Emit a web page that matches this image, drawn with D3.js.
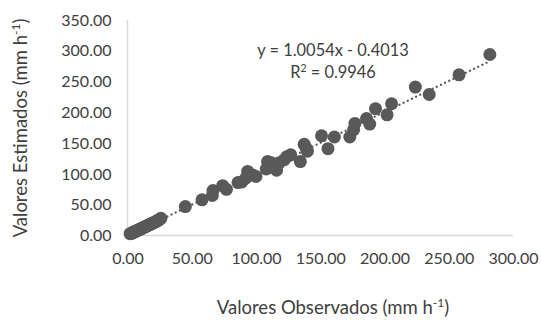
<!DOCTYPE html>
<html>
<head>
<meta charset="utf-8">
<script src="https://cdn.jsdelivr.net/npm/d3@7"></script>
<style>
  body { margin: 0; background: #fff; }
  text { font-family: Lato, "Open Sans", sans-serif; fill: #404040; }
</style>
</head>
<body>
<svg id="chart" width="541" height="320"></svg>
<script>
// observed (x) and estimated (y) rainfall intensity, mm h-1
const observed = [
  2, 3, 3.5, 4, 4.5, 5, 5.5, 6, 6.5, 7, 7.5, 8, 8.5, 9, 9.5, 10, 11, 11.5, 12, 13,
  13.5, 14, 15, 15.5, 16, 17, 17.5, 18, 19, 19.5, 20, 21, 22, 22.5, 23, 24, 25, 26,
  45, 58, 66, 66.5, 74, 77, 86, 89, 92, 93.5, 95, 97.5, 100, 108, 109, 112, 116, 118,
  122, 124, 127, 134.5, 137.5, 139, 140, 151, 156, 161, 173, 176, 177, 186, 188.5, 193,
  202, 205.5, 224, 234.8, 258, 282
];
const estimated = [
  3, 3.5, 4, 4.5, 5, 5.5, 6, 6.5, 7, 7.5, 8, 8.5, 9, 9.5, 10, 10.5, 11.5, 12, 12.5, 13.5,
  14, 14.5, 15.5, 16, 16.5, 17.5, 18, 18.5, 19.5, 20, 20.5, 21.5, 22.5, 23, 24, 25, 26, 28,
  47, 58, 65, 73, 81, 75, 86, 87, 93, 104, 100, 98, 96, 108, 120, 118, 106, 118,
  123, 128, 131, 120, 148, 142, 137, 162, 141, 160, 160, 172, 182, 190, 181, 206,
  196, 214, 241, 229, 261, 294
];
const xTicks = [0, 50, 100, 150, 200, 250, 300];
const yTicks = [0, 50, 100, 150, 200, 250, 300, 350];
const slope = 1.0054, intercept = -0.4013;

const svg = d3.select("#chart");
const x = d3.scaleLinear().domain([0, 300]).range([127.5, 513]);
const y = d3.scaleLinear().domain([0, 350]).range([235.5, 20]);
const fmt = d3.format(".2f");

// axes lines
svg.append("line")
  .attr("x1", x(0)).attr("x2", x(0)).attr("y1", y(350)).attr("y2", y(0))
  .attr("stroke", "#d9d9d9").attr("stroke-width", 1.5);
svg.append("line")
  .attr("x1", x(0)).attr("x2", x(300)).attr("y1", y(0)).attr("y2", y(0))
  .attr("stroke", "#d9d9d9").attr("stroke-width", 1.5);

// tick labels
const yAxis = svg.append("g")
  .attr("transform", "translate(" + x(0) + ",0)")
  .call(d3.axisLeft(y).tickValues(yTicks).tickFormat(fmt).tickSize(0).tickPadding(16));
const xAxis = svg.append("g")
  .attr("transform", "translate(0," + y(0) + ")")
  .call(d3.axisBottom(x).tickValues(xTicks).tickFormat(fmt).tickSize(0).tickPadding(17));
[yAxis, xAxis].forEach(g => {
  g.select(".domain").remove();
  g.selectAll("text").attr("font-size", 16).attr("fill", "#404040")
    .attr("font-family", "Lato, 'Open Sans', sans-serif");
});

// trendline
const xs = d3.extent(observed);
svg.append("line")
  .attr("x1", x(xs[0])).attr("y1", y(slope * xs[0] + intercept))
  .attr("x2", x(xs[1])).attr("y2", y(slope * xs[1] + intercept))
  .attr("stroke", "#595959").attr("stroke-width", 2.2)
  .attr("stroke-dasharray", "0.1,4.5").attr("stroke-linecap", "round");

// points
svg.append("g").selectAll("circle")
  .data(observed)
  .enter()
  .append("circle")
  .attr("cx", d => x(d))
  .attr("cy", (d, i) => y(estimated[i]))
  .attr("r", 6.5)
  .style("fill", "#595959");

// equation
svg.append("text").attr("x", 333).attr("y", 56).attr("text-anchor", "middle")
  .attr("font-size", 16.4).text("y = 1.0054x - 0.4013");
const r2 = svg.append("text").attr("x", 333).attr("y", 78).attr("text-anchor", "middle")
  .attr("font-size", 16.4);
r2.append("tspan").text("R");
r2.append("tspan").attr("dy", -6).attr("font-size", 10.5).text("2");
r2.append("tspan").attr("dy", 6).text(" = 0.9946");

// axis titles
const xt = svg.append("text").attr("x", 333).attr("y", 314).attr("text-anchor", "middle")
  .attr("font-size", 18.5);
xt.append("tspan").text("Valores Observados (mm h");
xt.append("tspan").attr("dy", -7).attr("font-size", 12).text("-1");
xt.append("tspan").attr("dy", 7).text(")");

const yt = svg.append("text").attr("transform", "translate(27,128) rotate(-90)")
  .attr("text-anchor", "middle").attr("font-size", 18.5);
yt.append("tspan").text("Valores Estimados (mm h");
yt.append("tspan").attr("dy", -7).attr("font-size", 12).text("-1");
yt.append("tspan").attr("dy", 7).text(")");
</script>
</body>
</html>
